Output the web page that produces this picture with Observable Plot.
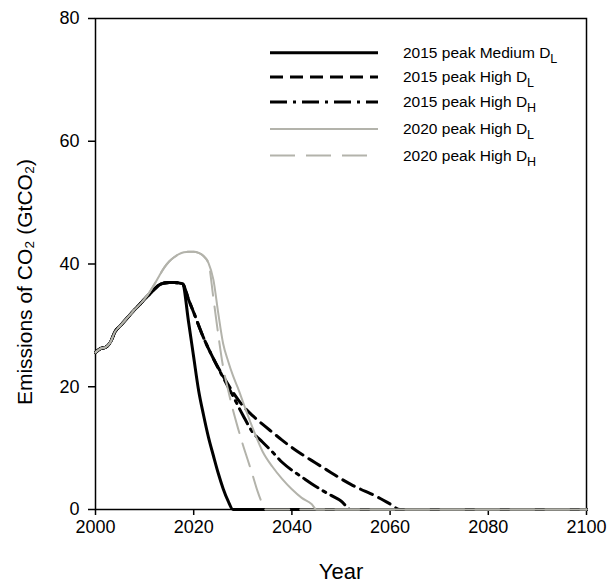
<!DOCTYPE html>
<html>
<head>
<meta charset="utf-8">
<script src="https://cdn.jsdelivr.net/npm/d3@7"></script>
<script src="https://cdn.jsdelivr.net/npm/@observablehq/plot@0.6"></script>
<style>
  html, body { margin: 0; padding: 0; background: #fff; }
  #wrap { position: relative; width: 608px; height: 586px; font-family: "Liberation Sans", Arial, sans-serif; }
  #legend { position: absolute; left: 0; top: 0; pointer-events: none; }
</style>
</head>
<body>
<div id="wrap"></div>
<script>
// ---- data ----
const histYears = [2000, 2001, 2002, 2003, 2004, 2005, 2006, 2007, 2008, 2009, 2010];
const histVals  = [25.6, 26.2, 26.4, 27.2, 29.0, 29.9, 30.8, 31.7, 32.6, 33.4, 34.3];

const peak2015Years = [2011, 2012, 2013, 2014, 2015, 2016, 2017, 2017.7];
const peak2015Vals  = [35.1, 35.9, 36.6, 36.9, 37.0, 37.0, 36.9, 36.8];

const peak2020Years = [2011, 2012, 2013, 2014, 2015, 2016, 2017, 2018, 2019, 2020, 2021, 2022, 2023];
const peak2020Vals  = [35.4, 36.7, 38.1, 39.4, 40.4, 41.1, 41.6, 41.9, 42.0, 42.0, 41.8, 41.3, 40.2];

const medDLYears = [2019, 2020, 2021, 2022, 2023, 2024, 2025, 2026, 2027, 2028, 2100];
const medDLVals  = [30.3, 24.8, 19.4, 15.4, 11.8, 8.8, 5.9, 3.4, 1.4, 0, 0];

const highDLYears = [2019, 2020, 2022, 2024, 2026, 2028, 2030, 2032, 2034, 2036, 2038, 2040, 2042, 2044, 2046, 2048, 2050, 2052, 2054, 2056, 2058, 2060, 2062, 2100];
const highDLVals  = [34.1, 32.1, 28.0, 24.6, 21.7, 19.1, 16.9, 15.3, 13.9, 12.6, 11.3, 10.1, 9.0, 8.0, 7.0, 6.0, 5.0, 4.1, 3.3, 2.6, 1.8, 0.9, 0, 0];

const highDHYears = [2019, 2020, 2022, 2024, 2026, 2028, 2030, 2032, 2034, 2036, 2038, 2040, 2042, 2044, 2046, 2048, 2050, 2052, 2100];
const highDHVals  = [34.1, 32.1, 28.0, 24.6, 21.5, 18.5, 15.4, 12.6, 11.0, 9.4, 7.7, 6.4, 5.3, 4.2, 3.2, 2.3, 1.4, 0, 0];

const p20DLYears = [2024, 2025, 2026, 2027, 2028, 2029, 2030, 2031, 2032, 2034, 2036, 2038, 2040, 2042, 2044, 2045, 2100];
const p20DLVals  = [37.5, 32.0, 27.0, 24.2, 21.8, 19.8, 17.6, 15.4, 13.3, 9.5, 7.0, 5.0, 3.3, 1.9, 0.9, 0, 0];

const p20DHYears = [2024, 2025, 2026, 2027, 2028, 2029, 2030, 2031, 2032, 2033, 2034, 2034.6, 2100];
const p20DHVals  = [34.5, 28.5, 23.2, 19.5, 16.2, 13.3, 10.6, 8.1, 5.6, 3.0, 0.9, 0, 0];

const xTicks = [2000, 2020, 2040, 2060, 2080, 2100];
const yTicks = [0, 20, 40, 60, 80];

const seriesNames = [
  ["2015 peak Medium D", "L"],
  ["2015 peak High D", "L"],
  ["2015 peak High D", "H"],
  ["2020 peak High D", "L"],
  ["2020 peak High D", "H"]
];

// ---- build rows ----
function build(parts) {
  const rows = [];
  for (const [ys, vs] of parts) ys.forEach((y, i) => rows.push({year: y, value: vs[i]}));
  return rows;
}
const sMedDL = build([[histYears, histVals], [peak2015Years, peak2015Vals], [medDLYears, medDLVals]]);
const sHighDL = build([[histYears, histVals], [peak2015Years, peak2015Vals], [highDLYears, highDLVals]]);
const sHighDH = build([[histYears, histVals], [peak2015Years, peak2015Vals], [highDHYears, highDHVals]]);
const s20DL = build([[histYears, histVals], [peak2020Years, peak2020Vals], [p20DLYears, p20DLVals]]);
const s20DH = build([[histYears, histVals], [peak2020Years, peak2020Vals], [p20DHYears, p20DHVals]]);

const GREY = "#b3b3ab";
const styles = [
  {stroke: "#000", strokeWidth: 3, dash: null},
  {stroke: "#000", strokeWidth: 3, dash: "13,7"},
  {stroke: "#000", strokeWidth: 3, dash: "17,6,3,6"},
  {stroke: GREY, strokeWidth: 2, dash: null},
  {stroke: GREY, strokeWidth: 2, dash: "24,11"}
];
const seriesData = [sMedDL, sHighDL, sHighDH, s20DL, s20DH];

const chart = Plot.plot({
  width: 608,
  height: 586,
  marginLeft: 95,
  marginRight: 22,
  marginTop: 18,
  marginBottom: 77,
  style: {fontFamily: "'Liberation Sans', Arial, sans-serif", fontSize: "18px", background: "#fff", color: "#000"},
  x: {domain: [2000, 2100]},
  y: {domain: [0, 80]},
  marks: [
    Plot.frame({stroke: "#000", strokeWidth: 1.5}),
    Plot.axisX({ticks: xTicks, tickFormat: d => String(d), tickSize: 6, tickPadding: 5, strokeWidth: 1.5, label: null, fontSize: 18}),
    Plot.axisY({ticks: yTicks, tickSize: 7, tickPadding: 9, strokeWidth: 1.5, label: null, fontSize: 18}),
    ...seriesData.map((d, i) => Plot.line(d, {
      x: "year", y: "value", curve: "monotone-x",
      stroke: styles[i].stroke, strokeWidth: styles[i].strokeWidth,
      strokeDasharray: styles[i].dash
    })),
    Plot.text(["Year"], {frameAnchor: "bottom", text: d => d, dy: 62, fontSize: 22, lineAnchor: "middle"}),
    Plot.text(["Emissions of CO\u2082 (GtCO\u2082)"], {frameAnchor: "left", text: d => d, rotate: -90, dx: -70, dy: 18, fontSize: 21, lineAnchor: "middle", textAnchor: "middle"})
  ]
});

const wrap = document.getElementById("wrap");
wrap.appendChild(chart);

// ---- legend overlay ----
const ns = "http://www.w3.org/2000/svg";
const leg = document.createElementNS(ns, "svg");
leg.setAttribute("id", "legend");
leg.setAttribute("width", 608);
leg.setAttribute("height", 586);
const rowY = [52.7, 77, 102, 129, 155.5];
seriesNames.forEach((name, i) => {
  const y = rowY[i];
  const ln = document.createElementNS(ns, "line");
  ln.setAttribute("x1", 270); ln.setAttribute("x2", i === 4 ? 367 : 378);
  ln.setAttribute("y1", y); ln.setAttribute("y2", y);
  ln.setAttribute("stroke", styles[i].stroke);
  ln.setAttribute("stroke-width", styles[i].strokeWidth);
  if (styles[i].dash) ln.setAttribute("stroke-dasharray", i === 4 ? "25,11" : styles[i].dash);
  leg.appendChild(ln);
  const t = document.createElementNS(ns, "text");
  t.setAttribute("x", 403); t.setAttribute("y", y + 5);
  t.setAttribute("font-size", 15.5);
  t.setAttribute("font-family", "'Liberation Sans', Arial, sans-serif");
  t.appendChild(document.createTextNode(name[0]));
  const sub = document.createElementNS(ns, "tspan");
  sub.setAttribute("dy", 5); sub.setAttribute("font-size", 12.5);
  sub.textContent = name[1];
  t.appendChild(sub);
  leg.appendChild(t);
});
wrap.appendChild(leg);
</script>
</body>
</html>
